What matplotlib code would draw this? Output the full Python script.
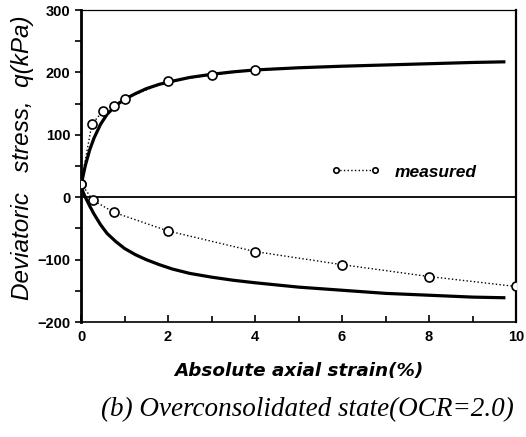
import matplotlib
matplotlib.use('Agg')
import matplotlib.pyplot as plt
from matplotlib.ticker import MultipleLocator

# measured points (dotted line with open circles)
meas_up_x = [0.0, 0.25, 0.5, 0.75, 1.0, 2.0, 3.0, 4.0]
meas_up_q = [22, 117, 138, 147, 158, 186, 196, 204]
meas_lo_x = [0.0, 0.28, 0.75, 2.0, 4.0, 6.0, 8.0, 10.0]
meas_lo_q = [22, -5, -24, -54, -87, -108, -127, -143]

# predicted curves (solid)
pred_up_x = [0.0, 0.05, 0.1, 0.2, 0.3, 0.45, 0.6, 0.8, 1.0, 1.25, 1.5, 1.8, 2.1, 2.5,
             3.0, 3.5, 4.0, 5.0, 6.0, 7.0, 8.0, 9.0, 9.72]
pred_up_q = [18, 35, 51, 76, 95, 117, 133, 147, 157, 166, 174, 181, 186, 192,
             197, 201, 204, 207.5, 210, 212, 214, 216, 217]
pred_lo_x = [0.0, 0.05, 0.1, 0.2, 0.3, 0.45, 0.6, 0.8, 1.0, 1.25, 1.5, 1.8, 2.1, 2.5,
             3.0, 3.5, 4.0, 5.0, 6.0, 7.0, 8.0, 9.0, 9.72]
pred_lo_q = [18, 8, 0, -14, -27, -44, -58, -71, -82, -92, -100, -108, -115, -122,
             -128, -133, -137, -144, -149, -154, -157, -160, -161]

fig = plt.figure(figsize=(5.26, 4.37), dpi=100)
ax = fig.add_axes([0.154, 0.263, 0.827, 0.714])

ax.axhline(0, color='black', lw=1.3, zorder=1)

ax.plot(pred_up_x, pred_up_q, color='black', lw=2.3, zorder=2)
ax.plot(pred_lo_x, pred_lo_q, color='black', lw=2.3, zorder=2)

mk = dict(color='black', ls=':', lw=1.0, marker='o', ms=6.5, mfc='white',
          mec='black', mew=1.2, zorder=3)
line, = ax.plot(meas_up_x, meas_up_q, **mk)
ax.plot(meas_lo_x, meas_lo_q, **mk)

leg = ax.legend([line], ['measured'], loc='center left', bbox_to_anchor=(0.575, 0.481),
                borderaxespad=0, borderpad=0, frameon=False, numpoints=2,
                markerscale=0.6, handlelength=2.84, handletextpad=0.85,
                prop=dict(family='Liberation Sans', style='italic', weight='bold', size=12.5))

ax.set_xlim(0, 10)
ax.set_ylim(-200, 300)
ax.xaxis.set_major_locator(MultipleLocator(2))
ax.xaxis.set_minor_locator(MultipleLocator(1))
ax.yaxis.set_major_locator(MultipleLocator(100))
ax.yaxis.set_minor_locator(MultipleLocator(50))
ax.tick_params(axis='x', which='both', direction='in', length=5, width=1.2, pad=6)
ax.tick_params(axis='y', which='both', direction='out', length=4, width=1.2)
ax.tick_params(axis='x', which='minor', length=4)

for lab in ax.get_xticklabels() + ax.get_yticklabels():
    lab.set_family('Liberation Sans')
    lab.set_weight('bold')
    lab.set_size(10.5)

ax.spines['left'].set_linewidth(2.0)
ax.spines['bottom'].set_linewidth(1.2)
ax.spines['right'].set_linewidth(1.6)
ax.spines['top'].set_linewidth(0.9)

ax.set_xlabel('Absolute axial strain(%)', family='DejaVu Sans', style='italic',
              weight='bold', size=13.2, labelpad=13)
fig.text(0.043, 0.64, 'Deviatoric   stress,  q(kPa)', rotation=90, ha='center',
         va='center', family='Liberation Sans', style='italic', size=17.5)

fig.text(0.584, 0.062, '(b) Overconsolidated state(OCR=2.0)', ha='center', va='center',
         family='Liberation Serif', style='italic', size=19.5)

fig.savefig('out.png', dpi=100)
